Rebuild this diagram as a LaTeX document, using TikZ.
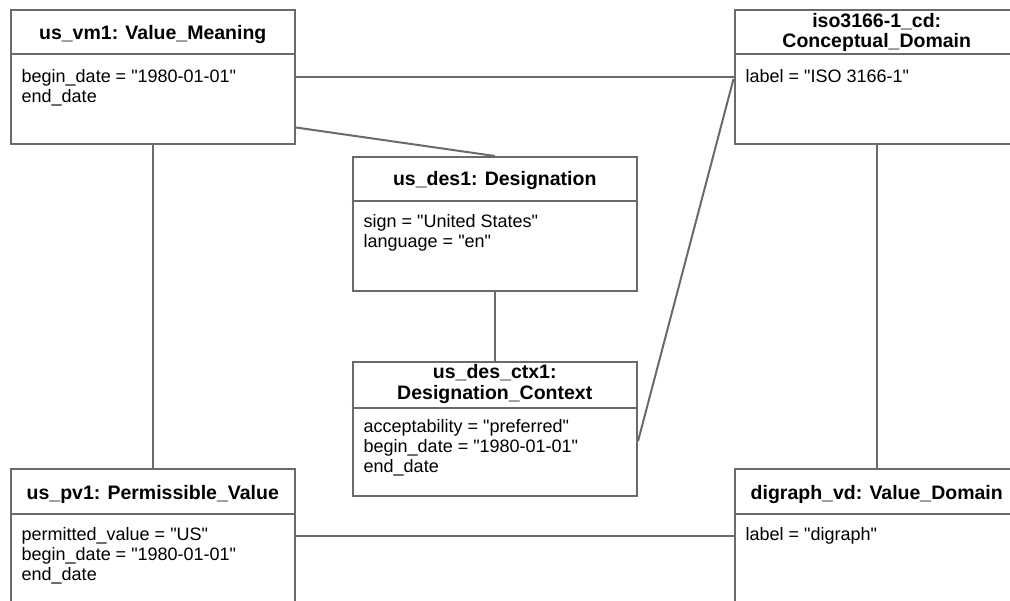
\documentclass[tikz,border=0pt]{standalone}
\usepackage{fontspec}
\setmainfont{Liberation Sans}[Ligatures=TeXOff]
\usetikzlibrary{calc}
\definecolor{linegray}{HTML}{6A6A6A}
\begin{document}
\begin{tikzpicture}[x=1pt,y=-1pt,
  obj/.style={draw=linegray, line width=2pt, fill=white, minimum width=284.5pt, minimum height=134.5pt, inner sep=0pt, anchor=north west},
  hdr/.style={font=\fontsize{19.5}{20}\selectfont\bfseries, anchor=base, inner sep=0pt},
  attr/.style={font=\fontsize{18}{20}\selectfont, anchor=base west, inner sep=0pt},
  sep/.style={draw=linegray, line width=2pt},
  conn/.style={draw=linegray, line width=2pt}]
\useasboundingbox (0,0) rectangle (1010,601);
\clip (0,0) rectangle (1010,601);
% boxes
\node[obj] (vm1) at (9.5,9) {};
\node[obj] (iso) at (733.5,9) {};
\node[obj] (des1) at (351.5,156) {};
\node[obj] (ctx) at (351.5,361) {};
\node[obj] (pv1) at (9.5,468) {};
\node[obj] (vd) at (733.5,468) {};
% header separators
\draw[sep] ($(vm1.north west)+(0,45)$) -- ($(vm1.north east)+(0,45)$);
\draw[sep] ($(iso.north west)+(0,45)$) -- ($(iso.north east)+(0,45)$);
\draw[sep] ($(des1.north west)+(0,45)$) -- ($(des1.north east)+(0,45)$);
\draw[sep] ($(ctx.north west)+(0,47)$) -- ($(ctx.north east)+(0,47)$);
\draw[sep] ($(pv1.north west)+(0,46)$) -- ($(pv1.north east)+(0,46)$);
\draw[sep] ($(vd.north west)+(0,46)$) -- ($(vd.north east)+(0,46)$);
% headers
\node[hdr] (vm1h) at ($(vm1.north)+(0,31)$) {us\_vm1: Value\_Meaning};
\node[hdr] (isoh1) at ($(iso.north)+(0,19)$) {iso3166-1\_cd:};
\node[hdr] (isoh2) at ($(iso.north)+(0,39)$) {Conceptual\_Domain};
\node[hdr] (des1h) at ($(des1.north)+(0,29.5)$) {us\_des1: Designation};
\node[hdr] (ctxh1) at ($(ctx.north)+(0,18)$) {us\_des\_ctx1:};
\node[hdr] (ctxh2) at ($(ctx.north)+(0,39)$) {Designation\_Context};
\node[hdr] (pv1h) at ($(pv1.north)+(0,32)$) {us\_pv1: Permissible\_Value};
\node[hdr] (vdh) at ($(vd.north)+(0,32)$) {digraph\_vd: Value\_Domain};
% attributes
\node[attr] (vm1a1) at ($(vm1.north west)+(12,74)$) {begin\_date = "1980-01-01"};
\node[attr] (vm1a2) at ($(vm1.north west)+(12,94)$) {end\_date};
\node[attr] (isoa1) at ($(iso.north west)+(12,74)$) {label = "ISO 3166-1"};
\node[attr] (des1a1) at ($(des1.north west)+(12,72)$) {sign = "United States"};
\node[attr] (des1a2) at ($(des1.north west)+(12,92)$) {language = "en"};
\node[attr] (ctxa1) at ($(ctx.north west)+(12,72)$) {acceptability = "preferred"};
\node[attr] (ctxa2) at ($(ctx.north west)+(12,92)$) {begin\_date = "1980-01-01"};
\node[attr] (ctxa3) at ($(ctx.north west)+(12,112)$) {end\_date};
\node[attr] (pv1a1) at ($(pv1.north west)+(12,72)$) {permitted\_value = "US"};
\node[attr] (pv1a2) at ($(pv1.north west)+(12,92)$) {begin\_date = "1980-01-01"};
\node[attr] (pv1a3) at ($(pv1.north west)+(12,112)$) {end\_date};
\node[attr] (vda1) at ($(vd.north west)+(12,72)$) {label = "digraph"};
% connectors
\draw[conn] (vm1.east) -- (iso.west);
\draw[conn] ([yshift=18pt]vm1.south east) -- (des1.north);
\draw[conn] (des1.south) -- (ctx.north);
\draw[conn] ([yshift=-12pt]ctx.east) -- ([yshift=-1.75pt]iso.west);
\draw[conn] (vm1.south) -- (pv1.north);
\draw[conn] (iso.south) -- (vd.north);
\draw[conn] (pv1.east) -- (vd.west);
\end{tikzpicture}
\end{document}
